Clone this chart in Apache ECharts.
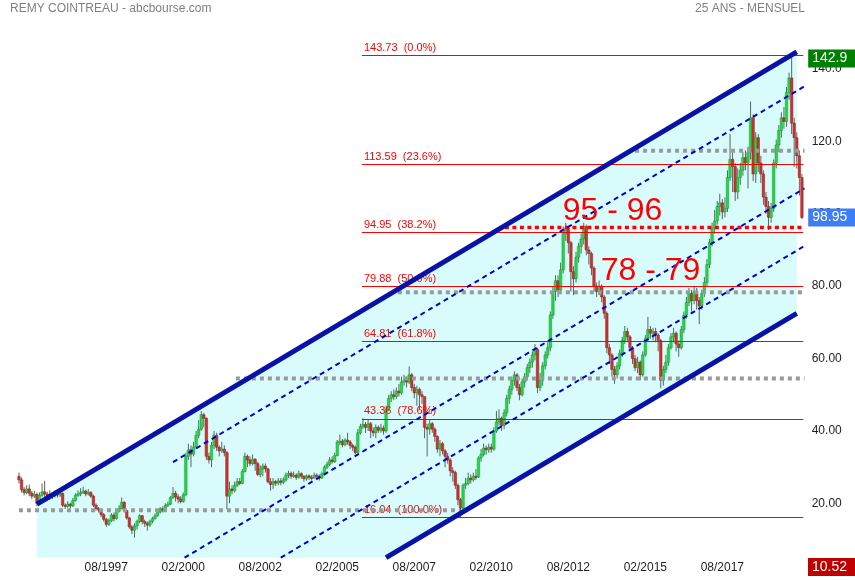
<!DOCTYPE html>
<html><head><meta charset="utf-8">
<script src="https://cdn.jsdelivr.net/npm/echarts@6/dist/echarts.min.js"></script>
<style>html,body{margin:0;padding:0;background:#fff}#c{width:855px;height:580px}</style>
</head><body><div id="c"></div>
<script>
// ---------- DATA ----------
const startYear = 1994, startMonthNum = 10;          // first candle: 10/1994 (monthly)
const xTickLabels = ['08/1997','02/2000','08/2002','02/2005','08/2007','02/2010','08/2012','02/2015','08/2017'];
const yTickValues = [20, 40, 60, 80, 100, 120, 140];
const firstOpen = 27.5;
const closes = [
26.5,23.8,23.0,24.0,22.8,22.0,22.5,20.0,22.2,23.2,22.6,21.6,
22.5,22.0,22.8,22.3,22.8,19.5,19.2,19.8,19.3,20.8,22.2,22.6,
23.0,23.4,22.6,23.0,22.0,19.5,18.6,18.2,16.9,15.6,14.2,15.2,
16.8,15.8,17.8,18.6,20.3,18.0,16.0,13.5,12.6,13.8,15.0,16.6,
15.0,14.5,14.0,15.0,15.8,16.6,17.6,18.5,18.2,19.4,19.8,21.6,
22.8,21.8,21.2,20.5,22.4,33.0,34.8,33.6,35.6,38.8,40.5,44.5,
43.5,33.0,32.0,36.0,38.8,35.5,34.5,35.0,34.0,22.0,24.0,23.5,
25.0,26.0,25.5,28.8,33.0,32.0,31.0,32.2,31.0,28.0,29.5,30.3,
29.5,26.0,25.2,26.0,25.6,26.2,25.8,26.5,27.8,28.3,27.5,27.8,
27.2,28.2,27.5,26.8,27.6,27.2,27.0,27.8,27.5,27.0,28.2,30.0,
30.8,32.0,31.5,33.2,37.0,37.2,36.2,37.5,37.0,36.0,35.5,34.0,
39.5,41.2,41.8,41.0,42.0,40.0,39.5,41.0,40.2,40.8,40.0,46.0,
49.0,50.0,49.5,51.0,50.5,53.5,54.0,53.5,55.5,52.0,50.5,51.5,
50.0,49.5,41.0,40.5,42.0,40.5,38.5,35.0,36.5,34.5,33.0,32.0,
29.0,28.5,25.0,21.0,18.7,25.0,25.5,27.0,26.5,27.5,27.3,32.5,
33.5,35.3,34.8,35.5,35.0,40.0,42.5,43.5,41.5,45.0,49.0,51.5,
54.0,55.5,52.0,50.0,53.5,55.0,57.5,59.0,61.0,62.5,52.0,54.0,
58.0,61.0,63.0,72.0,78.5,81.5,79.0,84.5,94.5,96.0,92.0,84.0,
82.0,88.0,91.0,93.0,96.5,90.0,89.0,85.0,80.0,78.5,80.0,77.0,
72.5,63.0,61.0,57.0,55.5,58.0,61.5,65.0,67.5,66.0,63.0,60.0,
57.5,59.0,55.5,61.0,65.5,68.0,67.0,67.5,66.5,65.0,54.0,57.0,
59.0,63.0,66.0,67.0,64.0,63.0,68.0,72.0,75.5,78.0,76.0,78.5,
76.0,74.5,78.0,81.0,86.0,92.0,96.0,98.0,102.0,103.0,100.5,101.5,
110.0,115.0,113.0,106.0,110.0,112.0,115.5,114.0,117.0,126.5,111.0,121.0,
114.0,111.0,104.6,102.0,99.0,101.5,114.0,119.0,123.0,126.5,125.5,133.5,
137.5,125.0,121.0,116.0,110.0,98.95];
const highs = [
28.5,27.2,24.5,25.0,25.2,23.5,23.5,23.0,23.0,25.5,26.2,23.2,
23.6,23.0,23.6,23.5,23.6,23.0,20.0,20.6,20.2,21.5,22.8,23.6,
24.2,24.6,23.8,24.0,23.4,22.4,20.0,19.0,18.5,17.3,16.0,15.8,
17.3,17.5,18.5,19.5,21.6,20.6,18.2,16.3,14.0,14.5,15.5,17.0,
16.8,15.5,15.0,15.5,16.3,17.2,18.0,19.0,19.2,20.0,20.5,22.0,
24.5,23.5,22.5,22.0,23.0,34.0,36.5,36.0,37.0,40.0,43.0,45.5,
45.0,43.8,34.0,37.0,40.0,39.5,36.0,37.0,36.0,34.5,26.0,25.0,
26.0,27.0,27.0,29.5,34.0,33.5,33.0,33.5,32.5,31.5,30.5,31.0,
31.0,29.8,27.0,27.0,26.5,27.0,27.0,27.2,28.5,29.0,28.8,28.8,
28.3,29.0,28.6,27.8,28.0,28.0,27.8,28.5,28.3,28.0,28.8,30.5,
31.5,32.8,33.0,34.0,37.5,39.0,37.8,38.0,39.5,37.5,36.5,36.0,
40.5,42.0,43.5,42.5,43.0,42.5,41.0,41.8,41.5,42.0,41.5,47.0,
50.0,51.0,51.5,52.0,53.0,55.0,55.5,55.0,57.8,56.0,53.0,52.5,
52.0,51.0,49.5,42.0,43.0,42.5,41.0,38.8,37.5,37.0,35.0,34.0,
32.5,30.0,29.0,25.5,21.5,25.5,27.0,28.5,28.0,28.5,29.5,33.0,
35.0,36.5,36.0,36.5,36.5,41.0,45.5,46.0,44.0,46.0,50.0,52.5,
55.0,56.5,56.0,53.0,54.5,56.0,58.5,60.0,62.0,64.0,63.0,56.0,
59.0,62.0,64.5,73.0,80.0,83.0,83.0,86.5,96.5,97.5,96.5,92.5,
85.5,89.5,92.0,94.5,97.5,97.0,91.0,89.5,85.5,81.0,81.5,80.5,
77.5,73.0,64.0,61.5,58.0,59.0,62.5,66.0,69.0,68.5,66.5,63.5,
61.0,60.5,59.5,62.0,66.5,71.5,69.0,68.5,68.5,67.0,65.5,58.0,
61.0,64.0,67.0,68.5,67.5,65.0,69.0,73.0,77.0,79.5,79.0,80.0,
79.5,77.0,79.0,82.5,87.5,93.0,97.5,101.0,103.5,105.5,104.0,104.5,
112.0,122.0,117.0,114.0,112.5,114.0,117.0,117.5,118.5,131.0,127.5,122.5,
122.0,116.0,112.0,106.0,103.5,103.0,115.0,120.5,124.5,128.0,129.5,135.0,
139.0,143.7,126.5,122.5,117.5,111.0];
const lows = [
25.5,23.0,22.2,22.5,22.0,21.2,21.5,19.2,19.6,21.8,21.8,20.6,
21.0,21.2,21.6,21.6,21.8,19.0,18.5,18.8,18.6,19.0,20.5,21.8,
22.0,22.6,22.0,22.2,21.5,19.0,18.0,17.5,16.2,15.0,13.5,13.8,
14.8,15.0,15.5,17.5,18.3,17.5,15.5,13.0,11.5,10.5,12.8,14.5,
14.2,13.5,12.5,13.5,14.5,15.5,16.3,17.2,17.5,17.8,19.0,19.5,
21.2,20.5,20.0,20.0,20.2,22.0,32.0,30.0,33.0,35.0,38.0,40.0,
41.0,32.0,31.0,30.0,35.0,34.5,33.0,34.0,33.0,18.4,20.0,22.5,
23.0,24.5,25.0,25.3,28.5,30.0,30.3,30.5,29.0,27.5,27.2,27.5,
28.5,25.5,23.5,24.0,24.8,25.0,25.0,25.3,26.0,27.0,26.8,27.0,
26.5,26.8,26.8,26.0,26.3,26.5,26.3,26.8,26.8,26.3,26.8,27.8,
29.5,30.3,31.0,31.2,33.0,36.0,35.5,35.8,36.2,35.0,34.5,33.5,
33.8,39.0,40.5,39.5,40.0,38.0,38.5,38.0,39.5,39.5,39.0,39.5,
45.5,48.0,48.5,48.8,49.5,50.0,52.5,52.0,53.0,51.0,49.0,47.0,
46.0,47.5,38.0,33.0,39.0,39.5,37.0,34.0,33.0,33.5,30.0,31.0,
27.5,26.0,24.0,19.5,16.0,18.0,24.0,25.0,25.5,26.0,26.5,27.0,
31.5,33.0,33.5,34.0,34.0,34.5,39.5,41.5,40.0,40.5,44.0,47.5,
50.0,52.5,51.0,48.5,49.5,52.0,54.0,56.0,57.5,59.5,50.5,51.0,
52.5,57.0,60.0,62.0,71.0,76.0,77.0,78.0,83.5,92.5,89.0,78.5,
77.5,81.0,86.5,89.0,91.5,88.5,86.0,83.0,78.5,77.0,77.5,75.5,
71.0,61.5,58.5,55.0,53.0,54.5,57.0,60.5,64.0,64.5,62.0,58.5,
56.5,56.0,54.0,55.0,60.5,64.5,65.5,65.0,64.5,62.0,51.8,52.5,
56.0,58.0,62.5,64.5,62.0,60.5,62.5,67.0,71.0,74.5,73.0,75.0,
73.5,69.5,73.5,77.0,80.0,85.0,91.0,94.5,97.0,99.5,98.5,99.0,
100.5,109.0,106.0,103.5,104.0,108.0,110.5,112.0,107.0,115.0,109.0,108.5,
111.5,108.5,102.5,100.0,95.5,97.5,100.5,112.5,117.0,121.0,123.5,124.0,
131.5,122.0,113.0,112.5,105.0,98.5];

// channel lines: [monthIndex, value] end points
const channelUpper = [[7, 19.8], [303, 144.7]];
const channelLower = [[143, 5.0], [303, 72.5]];
const channelInner = [
  [[60, 31.4], [306, 135.2]],
  [[64.5, 5.0], [306, 107.0]],
  [[102, 5.0], [306, 91.1]]
];
// Fibonacci retracement levels
const fibLevels = [143.73, 113.59, 94.95, 79.88, 64.81, 43.36, 16.04];
const fibPcts   = ['0.0%', '23.6%', '38.2%', '50.0%', '61.8%', '78.6%', '100.0%'];
const fibFrom = 133.6, fibTo = 305.5;
// grey support / resistance levels and the month where each starts
const greyLevels = [18.1, 54.5, 78.3, 117.4];
const greyFrom   = [0, 84.5, 147.6, 240];
const greyTo     = [171.8, 306, 306, 306];
const redLevel = 96.2, redFrom = 189.3, redTo = 306;
const maxPrice = 142.9, lastPrice = 98.95, minPrice = 10.52;
const yMin = 5, yMax = 150;

// ---------- CHART ----------
const FONT = '"Liberation Sans", Arial, sans-serif';
const idxOf = s => { const p = s.split('/').map(Number); return (p[1] - startYear) * 12 + (p[0] - startMonthNum); };
const tickIdx = xTickLabels.map(idxOf);
const tickMap = {}; tickIdx.forEach((v, k) => tickMap[v] = xTickLabels[k]);
const candleData = closes.map((c, i) => [i, i === 0 ? firstOpen : closes[i - 1], c, lows[i], highs[i]]);
const fillPts = [channelUpper[0], channelUpper[1], channelLower[1], channelLower[0], [channelUpper[0][0], yMin]];

function seg(pts, color, width, type, z) {
  return { type: 'line', data: pts, symbol: 'none', silent: true, clip: false, z: z,
    lineStyle: { color: color, width: width, type: type, cap: 'butt' }, animation: false };
}

const series = [];
series.push({
  type: 'custom', silent: true, z: 1, animation: false, data: [[0, 0]],
  renderItem: (params, api) => ({
    type: 'polygon', shape: { points: fillPts.map(p => api.coord(p)) },
    style: { fill: '#d8fcfc' }
  })
});
series.push({
  type: 'custom', silent: true, z: 3, animation: false, data: candleData,
  encode: { x: 0, y: [1, 2, 3, 4] },
  renderItem: (params, api) => {
    const i = api.value(0), o = api.value(1), c = api.value(2), lo = api.value(3), hi = api.value(4);
    const top = api.coord([i, Math.max(o, c)]), bot = api.coord([i, Math.min(o, c)]);
    const pH = api.coord([i, hi]), pL = api.coord([i, lo]);
    const cx = top[0], w = 2.5, up = c >= o;
    let h = bot[1] - top[1]; if (h < 1.2) h = 1.2;
    return { type: 'group', children: [
      { type: 'line', shape: { x1: cx, y1: pH[1], x2: cx, y2: pL[1] }, style: { stroke: '#566661', lineWidth: 1 } },
      { type: 'rect', shape: { x: cx - w / 2, y: top[1], width: w, height: h },
        style: { fill: up ? '#1fdb42' : '#cf3131', stroke: up ? '#12962e' : '#8f1f1f', lineWidth: 0.5 } }
    ] };
  }
});
// grey dotted levels
greyLevels.forEach((v, k) => series.push(seg([[greyFrom[k], v], [greyTo[k], v]], '#9a9a9a', 4, [4, 4], 5)));
// red dotted level
series.push(seg([[redFrom, redLevel], [redTo, redLevel]], '#ff0000', 3.5, [4, 3.5], 6));
// inner dashed channel lines
channelInner.forEach(pts => series.push(seg(pts, '#0000c8', 2, [5, 4], 7)));
// outer channel lines
series.push(seg(channelUpper, '#0812a6', 5, 'solid', 8));
series.push(seg(channelLower, '#0812a6', 5, 'solid', 8));
// fibonacci lines
series.push({
  type: 'line', data: [], z: 9, silent: true, animation: false,
  markLine: {
    silent: true, symbol: 'none', animation: false,
    lineStyle: { color: '#ff0000', width: 1, type: 'solid' },
    label: { show: true, position: 'insideStartTop', distance: 2, color: '#ff0000', fontSize: 11, fontFamily: FONT },
    data: fibLevels.map((v, k) => [
      { coord: [fibFrom, v], label: { formatter: v.toFixed(2) + '  (' + fibPcts[k] + ')' } },
      { coord: [fibTo, v] }
    ])
  }
});
// price boxes on the right
series.push({
  type: 'line', data: [], z: 10, silent: true, animation: false,
  markLine: {
    silent: true, symbol: 'none', animation: false,
    lineStyle: { width: 0, color: 'rgba(0,0,0,0)' },
    label: { show: true, position: 'end', distance: 5, color: '#ffffff', fontSize: 14, fontFamily: FONT,
             padding: [2, 10, 2, 4], lineHeight: 14 },
    data: [
      { yAxis: maxPrice, label: { formatter: String(maxPrice), backgroundColor: '#008000' } },
      { yAxis: lastPrice, label: { formatter: String(lastPrice), backgroundColor: '#3d7ef8' } }
    ]
  }
});

const option = {
  animation: false,
  backgroundColor: '#ffffff',
  grid: { left: 17.7, right: 51.8, top: 32.7, bottom: 22.3, containLabel: false, outerBoundsMode: 'none' },
  xAxis: {
    type: 'value', min: -0.5, max: 305.5,
    axisLine: { show: false }, axisTick: { show: false }, splitLine: { show: false },
    axisLabel: { customValues: tickIdx, formatter: v => tickMap[v] || '', color: '#1e1e1e',
                 fontSize: 12, fontFamily: FONT, margin: 4 }
  },
  yAxis: {
    type: 'value', position: 'right', min: yMin, max: yMax,
    axisLine: { show: false }, axisTick: { show: false }, splitLine: { show: false },
    axisLabel: { customValues: yTickValues, formatter: v => v >= 100 ? v.toFixed(1) : v.toFixed(2),
                 color: '#1e1e1e', fontSize: 12, fontFamily: FONT, margin: 8.5 }
  },
  graphic: [
    { type: 'text', left: 10, top: 3, z: 20, style: { text: 'REMY COINTREAU - abcbourse.com', fill: '#808080', font: '12px ' + FONT } },
    { type: 'text', right: 50, top: 3, z: 20, style: { text: '25 ANS - MENSUEL', fill: '#808080', font: '12px ' + FONT } },
    { type: 'text', x: 612.5, y: 211, z: 20, style: { text: '95 - 96', fill: '#ff0000', font: '32px ' + FONT, align: 'center', verticalAlign: 'middle' } },
    { type: 'text', x: 650.5, y: 271, z: 20, style: { text: '78 - 79', fill: '#ff0000', font: '32px ' + FONT, align: 'center', verticalAlign: 'middle' } },
    { type: 'group', left: 808, top: 558, z: 20, children: [
      { type: 'rect', shape: { x: 0, y: 0, width: 47, height: 18 }, style: { fill: '#c00000' } },
      { type: 'text', x: 4, y: 9.5, style: { text: String(minPrice), fill: '#ffffff', font: '14px ' + FONT, verticalAlign: 'middle' } }
    ] }
  ],
  series: series
};
const chart = echarts.init(document.getElementById('c'));
chart.setOption(option);
</script>
</body></html>
